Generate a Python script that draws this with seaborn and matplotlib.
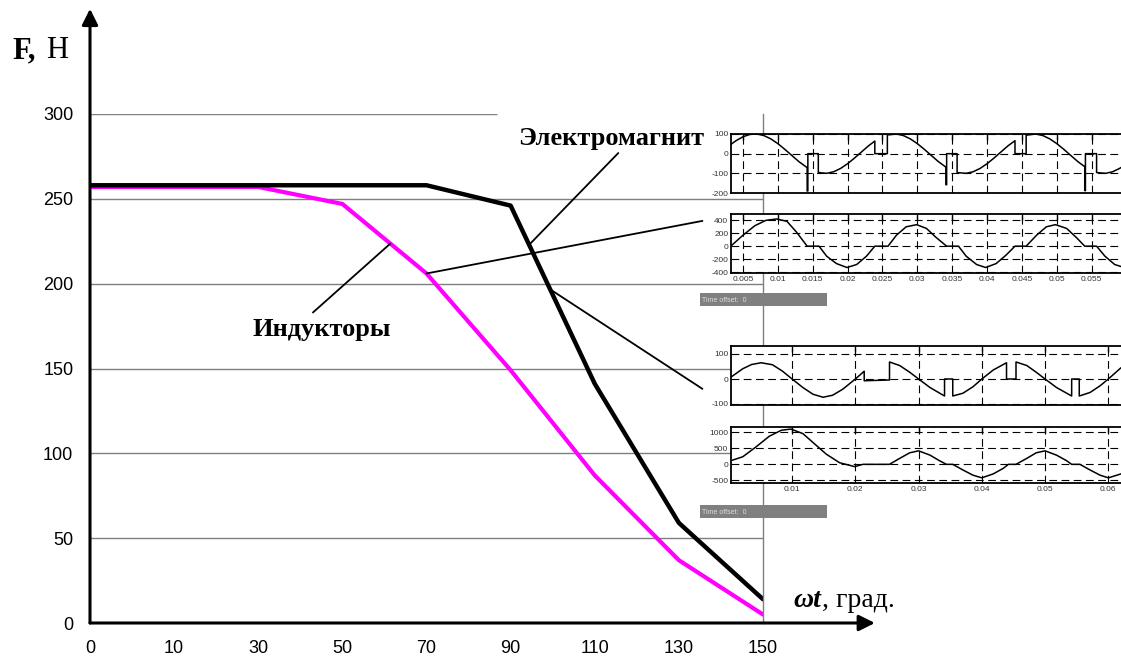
import numpy as np
import matplotlib
matplotlib.use('Agg')
import matplotlib.pyplot as plt
import seaborn as sns
from matplotlib.patches import Rectangle

# main curves: force vs. angle
angles = [0, 10, 30, 50, 70, 90, 110, 130, 150]
electromagnet = [258, 258, 258, 258, 258, 246, 141, 59, 14]
inductors = [257, 257, 257, 247, 206, 149, 87, 37, 5]
y_ticks = [0, 50, 100, 150, 200, 250, 300]

# scope 1 (top)
t1 = [0.0033, 0.004, 0.005, 0.006, 0.007, 0.008, 0.009, 0.010, 0.011, 0.012, 0.013, 0.014,
      0.0142, 0.0142, 0.0143, 0.0143, 0.0158, 0.0158,
      0.017, 0.018, 0.019, 0.020, 0.021, 0.022, 0.023, 0.0239, 0.0239, 0.0257, 0.0257,
      0.027, 0.028, 0.029, 0.030, 0.031, 0.032, 0.033, 0.034, 0.0341,
      0.0341, 0.0342, 0.0342, 0.0357, 0.0357,
      0.037, 0.038, 0.039, 0.040, 0.041, 0.042, 0.043, 0.044, 0.044, 0.0456, 0.0456,
      0.047, 0.048, 0.049, 0.050, 0.051, 0.052, 0.053, 0.054,
      0.054, 0.0541, 0.0541, 0.0557, 0.0557,
      0.057, 0.058, 0.059, 0.0595]
v1 = [48, 66, 86, 98, 100, 92, 75, 51, 22, -9, -40, -66,
      -71, -190, -190, 0, 0, -96,
      -100, -92, -75, -51, -22, 9, 40, 64, 0, 0, 95,
      100, 92, 75, 51, 22, -9, -40, -66, -68,
      -158, -158, 0, 0, -96,
      -100, -92, -75, -51, -22, 9, 40, 66, 0, 0, 94,
      100, 92, 75, 51, 22, -9, -40, -66,
      -188, -188, 0, 0, -96,
      -100, -92, -75, -64]

# scope 2
t2 = [0.0034, 0.005, 0.0067, 0.0083, 0.0098, 0.0113, 0.0127, 0.0142, 0.0159, 0.0170,
      0.0184, 0.0199, 0.0213, 0.0227, 0.0239, 0.0258, 0.0270, 0.0284, 0.0299, 0.0313,
      0.0327, 0.0342, 0.0359, 0.0370, 0.0385, 0.0398, 0.0413, 0.0427, 0.0440, 0.0456,
      0.0471, 0.0485, 0.0498, 0.0514, 0.0528, 0.0540, 0.0557, 0.0569, 0.0583, 0.0595]
v2 = [15, 170, 317, 400, 421, 385, 214, 0, 0, -155,
      -269, -330, -284, -155, 0, 0, 170, 300, 333, 275,
      134, 0, 0, -155, -284, -330, -269, -140, 0, 0,
      170, 300, 333, 275, 134, 0, 0, -155, -284, -325]

# scope 3
t3 = [0.0003, 0.0022, 0.0036, 0.0051, 0.0069, 0.0085, 0.0100, 0.0117, 0.0133, 0.0149,
      0.0164, 0.0180, 0.0200, 0.0214, 0.0214, 0.0254, 0.0254, 0.0270, 0.0286, 0.0300,
      0.0318, 0.0341, 0.0341, 0.0354, 0.0354, 0.0370, 0.0386, 0.0400, 0.0418, 0.0439,
      0.0439, 0.0454, 0.0454, 0.0471, 0.0486, 0.0500, 0.0518, 0.0542, 0.0542, 0.0554,
      0.0554, 0.0571, 0.0587, 0.0600, 0.0620]
v3 = [7, 41, 58, 65, 57, 31, 0, -34, -61, -73,
      -65, -41, 0, 31, -7, -4, 68, 54, 27, 0,
      -34, -68, 0, 0, -68, -57, -31, 0, 36, 65,
      0, 0, 68, 54, 27, 0, -34, -68, 0, 0,
      -68, -54, -27, 0, 45]

# scope 4 (bottom)
t4 = [0.0003, 0.0022, 0.0043, 0.0064, 0.0083, 0.0098, 0.0117, 0.0135, 0.0154, 0.0175,
      0.0199, 0.0212, 0.0254, 0.0270, 0.0286, 0.0300, 0.0318, 0.0333, 0.0344, 0.0354,
      0.0370, 0.0386, 0.0400, 0.0418, 0.0434, 0.0442, 0.0454, 0.0471, 0.0486, 0.0500,
      0.0518, 0.0534, 0.0542, 0.0555, 0.0571, 0.0587, 0.0600, 0.0620]
v4 = [113, 236, 544, 877, 1062, 1100, 959, 647, 318, 51,
      -72, 0, 0, 185, 360, 421, 287, 113, 0, 0,
      -175, -339, -421, -298, -123, 0, 0, 185, 360, 421,
      287, 113, 0, 0, -175, -339, -421, -298]

ticks_a = [0.005, 0.01, 0.015, 0.02, 0.025, 0.03, 0.035, 0.04, 0.045, 0.05, 0.055]
labels_a = ['0.005', '0.01', '0.015', '0.02', '0.025', '0.03', '0.035', '0.04', '0.045', '0.05', '0.055']
ticks_b = [0.01, 0.02, 0.03, 0.04, 0.05, 0.06]
labels_b = ['0.01', '0.02', '0.03', '0.04', '0.05', '0.06']

sns.set_style('white')
plt.rcParams['font.family'] = ['Liberation Sans', 'DejaVu Sans']
plt.rcParams['text.color'] = 'black'

W, H = 1121, 666
fig = plt.figure(figsize=(W / 100, H / 100), dpi=100)


def px(x0, y0, x1, y1):
    return [x0 / W, 1 - y1 / H, (x1 - x0) / W, (y1 - y0) / H]


ax = fig.add_axes(px(90, 114, 763, 623))
pos = list(range(len(angles)))
sns.lineplot(x=pos, y=inductors, color='#ff00ff', lw=3, ax=ax)
sns.lineplot(x=pos, y=electromagnet, color='black', lw=3.2, ax=ax)
ax.set_xlim(0, 8)
ax.set_ylim(0, 300)
ax.set_xticks(pos)
ax.set_xticklabels([str(a) for a in angles])
ax.set_yticks(y_ticks)
ax.tick_params(direction='out', length=5, width=2.2, labelsize=13, colors='black')
ax.tick_params(axis='x', pad=7)
ax.tick_params(axis='y', pad=7)
ax.hlines(y_ticks[1:-1], 0, 8, color='#7f7f7f', lw=1, zorder=0.5)
ax.hlines(300, 0, 4.84, color='#7f7f7f', lw=1, zorder=0.5)
for s in ['top', 'left', 'bottom']:
    ax.spines[s].set_visible(False)
ax.spines['right'].set_color('#7f7f7f')
ax.spines['right'].set_linewidth(1)

# axis arrows
arrow = dict(arrowstyle='-|>', color='black', lw=2.2, mutation_scale=24, shrinkA=0, shrinkB=0)
ax.annotate('', xy=(9.33, 0), xytext=(0, 0), arrowprops=arrow, annotation_clip=False)
ax.annotate('', xy=(0, 362), xytext=(0, 0), arrowprops=arrow, annotation_clip=False)

# leader lines
lead = dict(arrowstyle='-', color='black', lw=1.3, shrinkA=0, shrinkB=0)
em_x = 5.22
em_y = np.interp(em_x, pos, electromagnet)
ax.annotate('', xy=(em_x, em_y), xytext=(6.28, 277), arrowprops=lead, annotation_clip=False)
ax.annotate('', xy=(4, inductors[4]), xytext=(7.28, 237), arrowprops=lead, annotation_clip=False)
b_x = 5.47
b_y = np.interp(b_x, pos, electromagnet)
ax.annotate('', xy=(7.28, 138), xytext=(b_x, b_y), arrowprops=lead, annotation_clip=False)
in_x = 3.57
in_y = np.interp(in_x, pos, inductors)
ax.annotate('', xy=(in_x, in_y), xytext=(2.65, 183), arrowprops=lead, annotation_clip=False)

serif = ['Liberation Serif', 'DejaVu Serif']
ax.text(6.19, 281.5, 'Электромагнит', family=serif, weight='bold', fontsize=19,
        ha='center', va='baseline', color='black')
ax.text(2.75, 169, 'Индукторы', family=serif, weight='bold', fontsize=19,
        ha='center', va='baseline', color='black')

fig.text(12 / W, 1 - 58 / H, 'F,', family=serif, weight='bold', fontsize=22, va='baseline')
fig.text(46 / W, 1 - 58 / H, 'Н', family=serif, fontsize=22, va='baseline')
fig.text(793 / W, 1 - 607 / H, 'ωt', family=serif, weight='bold', style='italic',
         fontsize=20, va='baseline')
fig.text(822 / W, 1 - 607 / H, ', град.', family=serif, fontsize=20, va='baseline')


def scope(rect, t, v, xlim, ylim, yticks, xticks, xlabels):
    a = fig.add_axes(px(*rect))
    a.set_facecolor('white')
    sns.lineplot(x=t, y=v, estimator=None, sort=False, color='black', lw=1.1, ax=a)
    a.set_xlim(xlim)
    a.set_ylim(ylim)
    a.set_yticks(yticks)
    a.set_yticklabels([str(y) for y in yticks])
    a.set_xticks(xticks)
    a.set_xticklabels(xlabels)
    a.grid(True, color='black', ls=(0, (7, 4)), lw=0.8)
    a.tick_params(direction='in', length=4, width=1, top=True, labelsize=6,
                  pad=2, labelcolor='#333333', color='black')
    a.set_xlabel('')
    a.set_ylabel('')
    for s in a.spines.values():
        s.set_color('black')
        s.set_linewidth(1.3)
    a.spines['right'].set_visible(False)
    return a


scope((731, 134, 1121, 193), t1, v1, (0.00328, 0.0592), (-200, 100),
      [100, 0, -100, -200], ticks_a, [])
scope((731, 214, 1121, 273), t2, v2, (0.00328, 0.0592), (-415, 498),
      [400, 200, 0, -200, -400], ticks_a, labels_a)
scope((731, 346, 1121, 405), t3, v3, (0.00034, 0.062), (-104, 132),
      [100, 0, -100], ticks_b, [])
scope((731, 427, 1121, 483), t4, v4, (0.00034, 0.062), (-582, 1164),
      [1000, 500, 0, -500], ticks_b, labels_b)

for y0 in [293, 505]:
    fig.add_artist(Rectangle((700 / W, 1 - (y0 + 13) / H), 127 / W, 13 / H,
                             transform=fig.transFigure, color='#808080', lw=0))
    fig.text(702 / W, 1 - (y0 + 7) / H, 'Time offset:  0', fontsize=5,
             color='#dddddd', va='center')

fig.savefig('out.png', dpi=100)
